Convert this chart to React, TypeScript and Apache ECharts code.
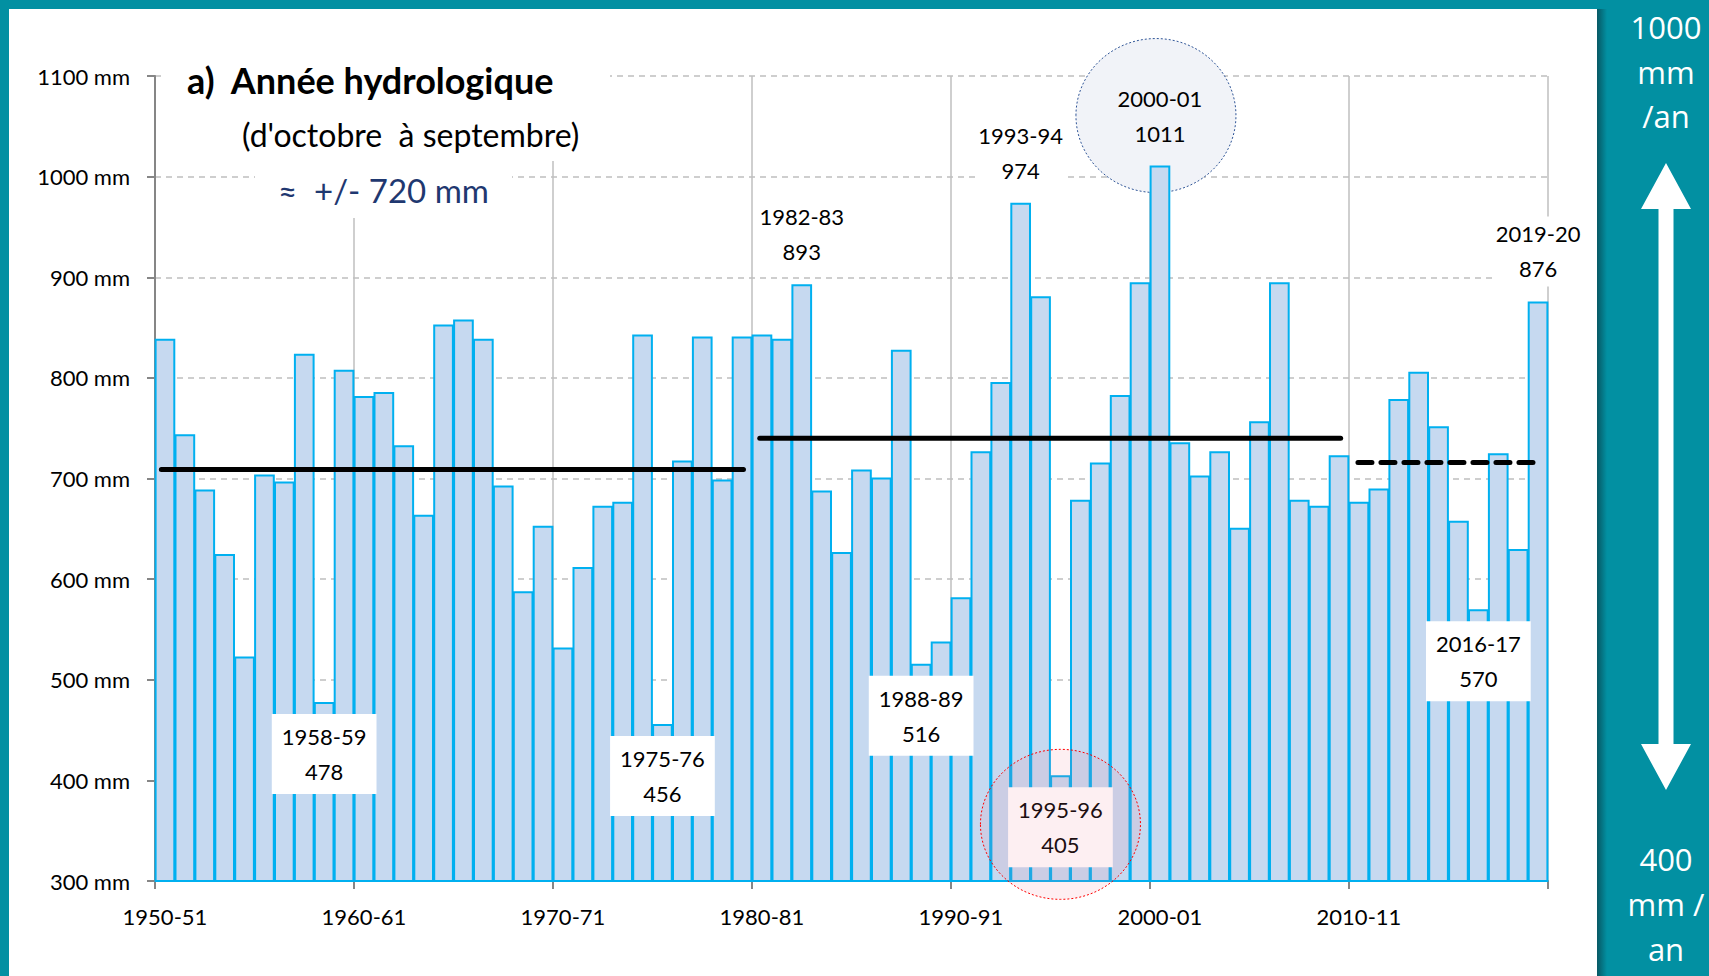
import React, { useEffect, useRef } from 'react';
import * as echarts from 'echarts';

// ---- Data ----
const seasons: string[] = Array.from({ length: 70 }, (_, i) =>
  `${1950 + i}-${String((51 + i) % 100).padStart(2, '0')}`
);

const rainfall: number[] = [
  839, 744, 689, 625, 523, 704, 697, 824, 478, 808,
  782, 786, 733, 664, 853, 858, 839, 693, 588, 653,
  532, 612, 673, 677, 843, 456, 718, 841, 699, 841,
  843, 839, 893, 688, 627, 709, 701, 828, 516, 538,
  582, 727, 796, 974, 881, 405, 679, 716, 783, 895,
  1011, 736, 703, 727, 651, 757, 895, 679, 673, 723,
  677, 690, 779, 806, 752, 658, 570, 725, 630, 876,
];

const yTicks = { min: 300, max: 1100, step: 100 };

// period means (x expressed in category units on a 0..70 scale)
const periodStart = [0.32, 30.39, 60.45];
const periodEnd = [29.57, 59.58, 69.42];
const periodMean = [709, 740, 716];

const topLabelled = ['1982-83', '1993-94', '2000-01', '2019-20'];
const boxLabelled = ['1958-59', '1975-76', '1988-89', '1995-96', '2016-17'];

const FONT = 'Lato, "Open Sans", sans-serif';
const TEAL = '#0290A2';

export default function App() {
  const ref = useRef<HTMLDivElement>(null);

  useEffect(() => {
    if (!ref.current) return;
    const chart = echarts.init(ref.current, undefined, { renderer: 'svg' });

    const barData = rainfall.map((v, i) => {
      const name = seasons[i];
      if (topLabelled.includes(name)) {
        return {
          value: v,
          label: {
            show: true,
            position: 'top',
            distance: 15,
            formatter: '{b}\n{c}',
            fontSize: 22,
            lineHeight: 35,
            color: '#000',
            fontFamily: FONT,
            backgroundColor: name === '2000-01' ? 'transparent' : '#fff',
            padding: [0, 2],
          },
        };
      }
      if (boxLabelled.includes(name)) {
        return {
          value: v,
          label: {
            show: true,
            position: 'insideTop',
            distance: 12,
            formatter: '{b}\n{c}',
            fontSize: 22,
            lineHeight: 35,
            color: '#000',
            fontFamily: FONT,
            backgroundColor: '#fff',
            padding: [5, 10],
          },
        };
      }
      return v;
    });

    const lineSeries = periodMean.map((m, k) => ({
      type: 'line',
      xAxisIndex: 1,
      yAxisIndex: 0,
      symbol: 'none',
      silent: true,
      z: 5,
      data: [
        [periodStart[k], m],
        [periodEnd[k], m],
      ],
      lineStyle: {
        color: '#000',
        width: 5,
        cap: 'round',
        type: k === 2 ? [14, 9] : 'solid',
      },
    }));

    chart.setOption({
      animation: false,
      backgroundColor: '#fff',
      textStyle: { fontFamily: FONT },
      grid: { left: 155, right: 161, top: 76, bottom: 95, containLabel: false },
      xAxis: [
        {
          type: 'category',
          data: seasons,
          boundaryGap: true,
          axisLine: { lineStyle: { color: '#868686', width: 2 } },
          axisTick: { show: true, interval: 9, length: 8, lineStyle: { color: '#868686', width: 2 } },
          axisLabel: { interval: 9, margin: 24, fontSize: 22, color: '#000', fontFamily: FONT },
          splitLine: { show: true, interval: 9, lineStyle: { color: '#BFBFBF', width: 1.5 } },
        },
        { type: 'value', min: 0, max: 70, show: false },
      ],
      yAxis: {
        type: 'value',
        min: yTicks.min,
        max: yTicks.max,
        interval: yTicks.step,
        axisLine: { show: true, lineStyle: { color: '#868686', width: 2 } },
        axisTick: { show: true, length: 8, lineStyle: { color: '#868686', width: 2 } },
        axisLabel: {
          formatter: (v: number) => `${v} mm`,
          fontSize: 22,
          margin: 25,
          color: '#000',
          fontFamily: FONT,
        },
        splitLine: { show: true, lineStyle: { color: '#BFBFBF', type: [6, 5], width: 1.5 } },
      },
      series: [
        {
          type: 'bar',
          data: barData,
          barWidth: '104%',
          z: 2,
          itemStyle: { color: '#C6D9F0', borderColor: '#00B0F0', borderWidth: 2 },
        },
        ...lineSeries,
      ],
    });

    // highlight ellipses placed from the data
    const px = (name: string) => {
      const i = seasons.indexOf(name);
      return chart.convertToPixel({ xAxisIndex: 0, yAxisIndex: 0 }, [i, rainfall[i]]) as number[];
    };
    const wet = px('2000-01');
    const dry = px('1995-96');

    const cx = 1666;
    const arrowTop = 163;
    const arrowBottom = 790;
    const headH = 46;
    const headW = 25;
    const shaftW = 7.5;

    const panelText = (text: string, y: number) => ({
      type: 'text',
      x: cx,
      y,
      z: 60,
      style: {
        text,
        fill: '#fff',
        fontSize: 31,
        fontFamily: '"Open Sans", sans-serif',
        align: 'center',
        verticalAlign: 'middle',
      },
    });

    chart.setOption({
      graphic: {
        elements: [
          // frame
          { type: 'rect', z: 60, shape: { x: 0, y: 0, width: 1709, height: 9 }, style: { fill: TEAL } },
          { type: 'rect', z: 60, shape: { x: 0, y: 0, width: 9, height: 976 }, style: { fill: TEAL } },
          { type: 'rect', z: 60, shape: { x: 1597, y: 0, width: 112, height: 976 }, style: { fill: TEAL } },
          {
            type: 'rect',
            z: 61,
            shape: { x: 1597, y: 9, width: 10, height: 967 },
            style: {
              fill: new echarts.graphic.LinearGradient(0, 0, 1, 0, [
                { offset: 0, color: '#075864' },
                { offset: 1, color: TEAL },
              ]),
            },
          },
          panelText('1000', 27),
          panelText('mm', 72),
          panelText('/an', 116),
          panelText('400', 859),
          panelText('mm /', 904),
          panelText('an', 949),
          {
            type: 'polygon',
            z: 62,
            shape: {
              points: [
                [cx, arrowTop],
                [cx + headW, arrowTop + headH],
                [cx + shaftW, arrowTop + headH],
                [cx + shaftW, arrowBottom - headH],
                [cx + headW, arrowBottom - headH],
                [cx, arrowBottom],
                [cx - headW, arrowBottom - headH],
                [cx - shaftW, arrowBottom - headH],
                [cx - shaftW, arrowTop + headH],
                [cx - headW, arrowTop + headH],
              ],
            },
            style: { fill: '#fff' },
          },
          // white masks behind title texts
          { type: 'rect', z: 5, shape: { x: 163, y: 46, width: 447, height: 115 }, style: { fill: '#fff' } },
          { type: 'rect', z: 5, shape: { x: 255, y: 160, width: 257, height: 58 }, style: { fill: '#fff' } },
          {
            type: 'text', z: 6, x: 187, y: 80,
            style: { text: 'a)  Année hydrologique', fill: '#000', fontSize: 36, fontWeight: 'bold', fontFamily: FONT, verticalAlign: 'middle' },
          },
          {
            type: 'text', z: 6, x: 242, y: 134,
            style: { text: "(d'octobre  à septembre)", fill: '#000', fontSize: 32, fontFamily: FONT, verticalAlign: 'middle' },
          },
          {
            type: 'text', z: 6, x: 278, y: 190,
            style: { text: '≈  +/- 720 mm', fill: '#1F3870', fontSize: 33, fontFamily: FONT, verticalAlign: 'middle' },
          },
          // highlight ellipses
          {
            type: 'ellipse',
            z: 1,
            shape: { cx: wet[0] - 4, cy: wet[1] - 50, rx: 80, ry: 77 },
            style: { fill: '#F1F3F8', stroke: '#2F5597', lineWidth: 1, lineDash: [2, 2] },
          },
          {
            type: 'ellipse',
            z: 50,
            shape: { cx: dry[0], cy: dry[1] + 49, rx: 80, ry: 75 },
            style: { fill: 'rgba(235,120,150,0.12)', stroke: '#FF0000', lineWidth: 1, lineDash: [2, 2] },
          },
        ],
      },
    });

    return () => chart.dispose();
  }, []);

  return (
    <div
      ref={ref}
      style={{ position: 'fixed', left: 0, top: 0, width: 1709, height: 976 }}
    />
  );
}
